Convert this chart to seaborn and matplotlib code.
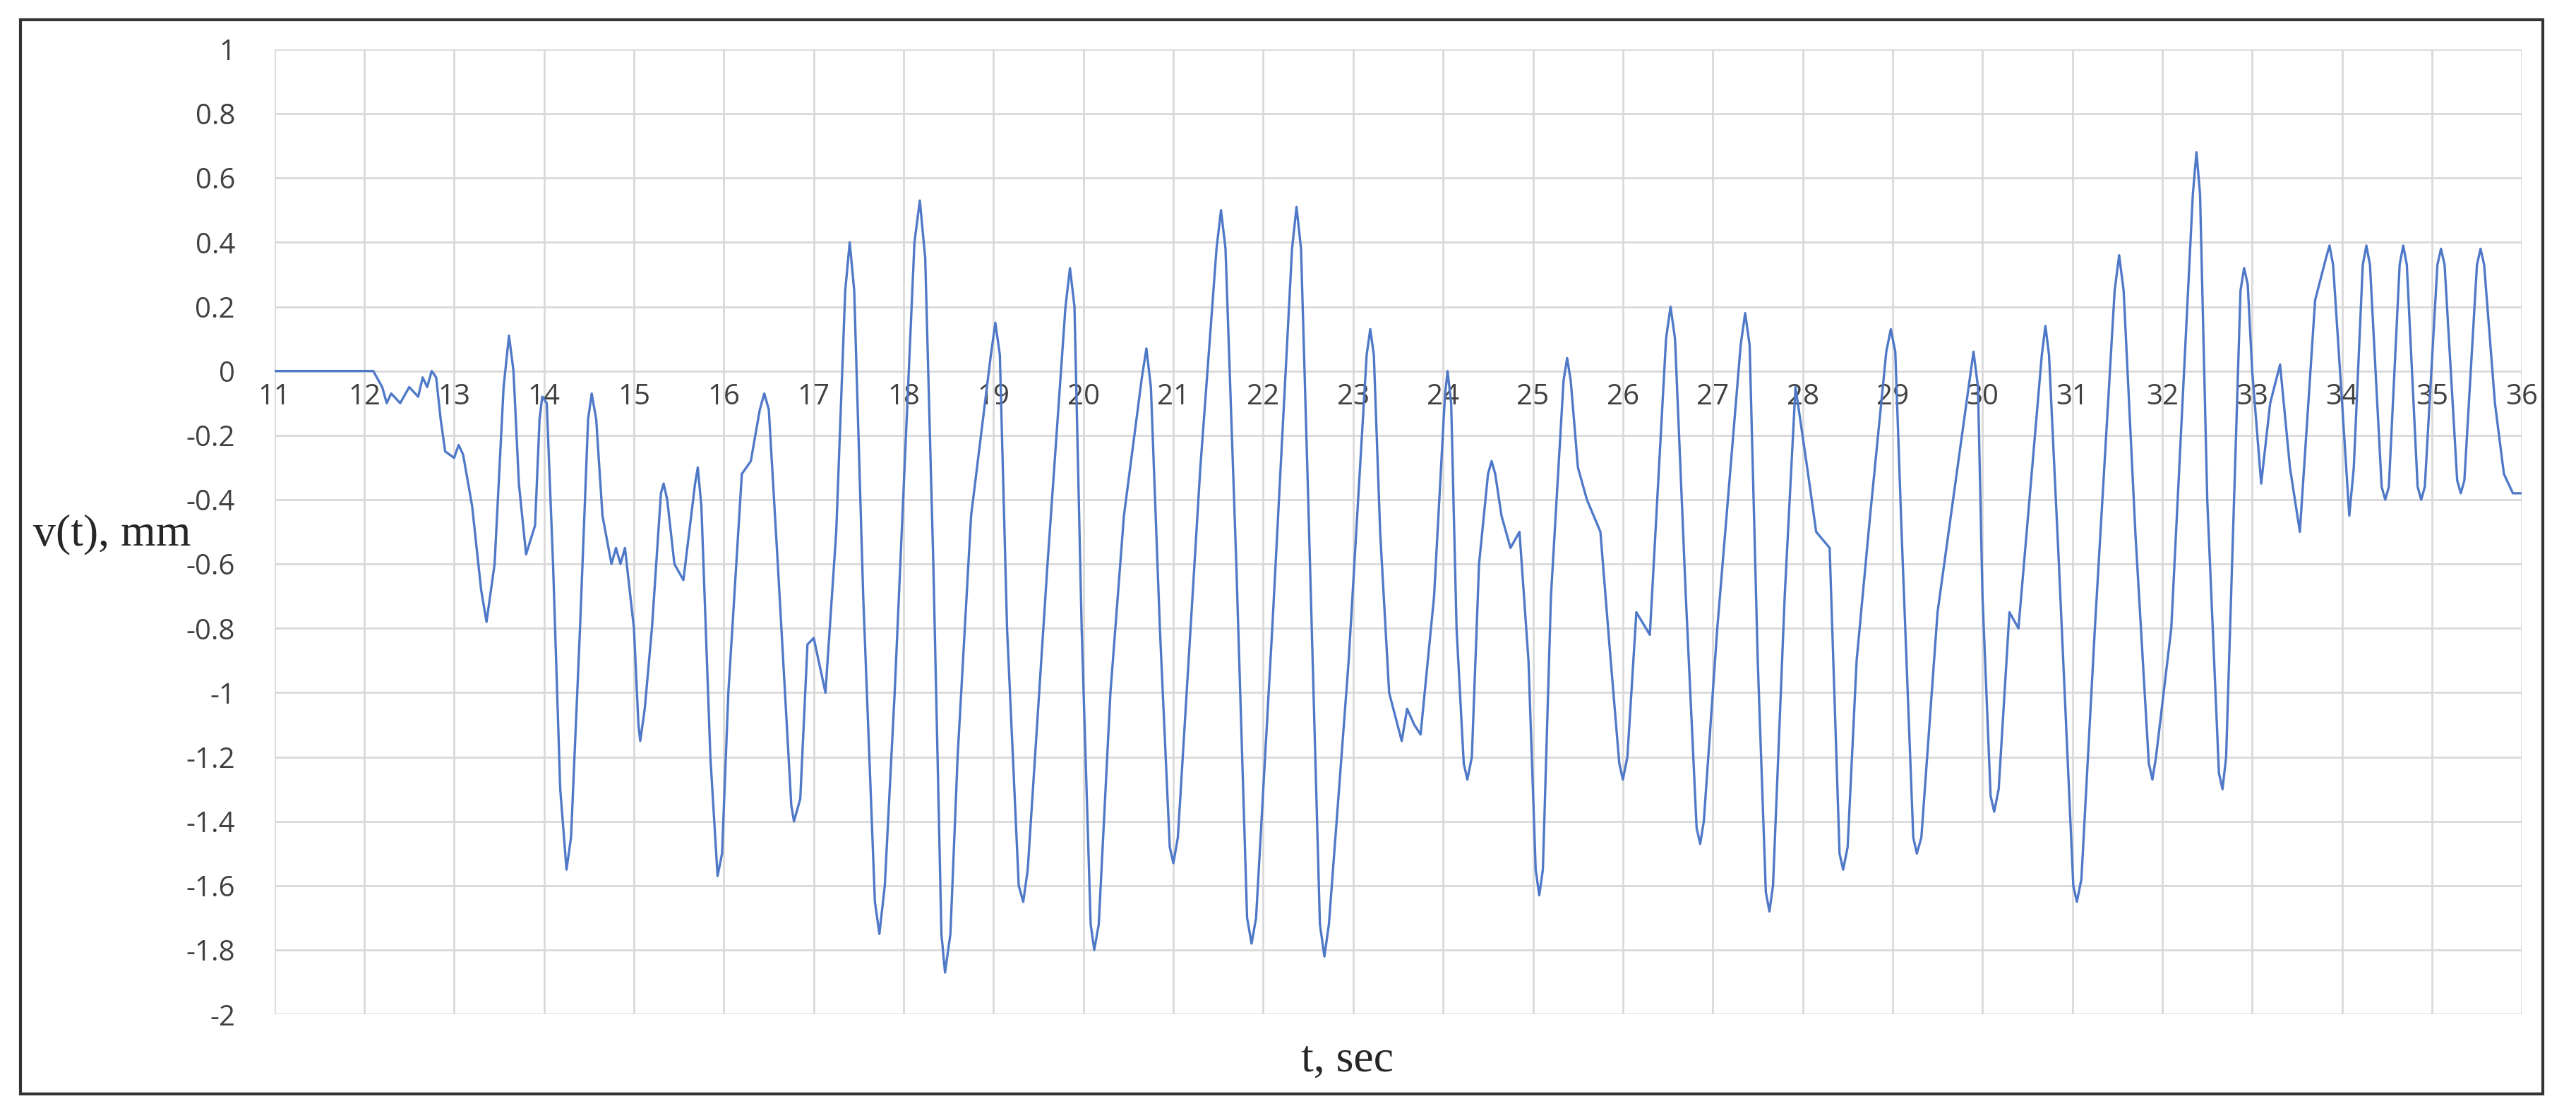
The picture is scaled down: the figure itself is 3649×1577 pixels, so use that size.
import matplotlib
matplotlib.use("Agg")
import matplotlib.pyplot as plt
import seaborn as sns
import pandas as pd
from matplotlib.patches import Rectangle

t = [11.0, 11.5, 12.0, 12.1, 12.2, 12.25, 12.3, 12.4, 12.5, 12.6, 12.65, 12.7, 12.75, 12.8, 12.85,
     12.9, 13.0, 13.05, 13.1, 13.2, 13.3, 13.36, 13.45, 13.55, 13.61, 13.66, 13.72, 13.8, 13.9, 13.95, 13.98, 14.03, 14.1, 14.18, 14.25, 14.3,
     14.4, 14.49, 14.53, 14.58, 14.65, 14.75, 14.8, 14.85, 14.9, 15.0, 15.05, 15.07, 15.12, 15.2, 15.3, 15.33, 15.37, 15.45, 15.55, 15.68, 15.71, 15.75, 15.85, 15.93, 15.98,
     16.05, 16.2, 16.3, 16.4, 16.45, 16.5, 16.6, 16.75, 16.78, 16.85, 16.93, 17.0, 17.13, 17.25, 17.35, 17.4, 17.45, 17.55, 17.68, 17.73, 17.79, 17.9, 18.12, 18.18, 18.24,
     18.33, 18.42, 18.46, 18.52, 18.6, 18.75, 18.97, 19.02, 19.07, 19.15, 19.28, 19.33, 19.38, 19.6, 19.8, 19.85, 19.9, 19.98, 20.08, 20.12, 20.17, 20.3, 20.45, 20.65, 20.7, 20.75, 20.85, 20.96, 21.0, 21.05,
     21.3, 21.48, 21.53, 21.58, 21.7, 21.82, 21.87, 21.92, 22.1, 22.32, 22.37, 22.42, 22.5, 22.63, 22.68, 22.73, 22.95, 23.15, 23.19, 23.23, 23.3, 23.4, 23.54, 23.6, 23.68, 23.75,
     23.9, 24.02, 24.05, 24.09, 24.15, 24.23, 24.27, 24.32, 24.4, 24.5, 24.54, 24.58, 24.65, 24.75, 24.85, 24.95, 25.03, 25.07, 25.11, 25.2, 25.34, 25.38, 25.42, 25.5, 25.6, 25.75,
     25.85, 25.96, 26.0, 26.05, 26.15, 26.3, 26.48, 26.53, 26.58, 26.7, 26.82, 26.86, 26.9, 27.05, 27.31, 27.36, 27.41, 27.5, 27.59, 27.63, 27.67, 27.8, 27.92, 28.05, 28.15, 28.3,
     28.41, 28.45, 28.5, 28.6, 28.75, 28.93, 28.98, 29.03, 29.1, 29.23, 29.27, 29.32, 29.5, 29.86, 29.9, 29.95, 30.0, 30.09, 30.13, 30.18, 30.3, 30.4, 30.66, 30.7, 30.74, 30.85, 31.01, 31.05, 31.1, 31.25,
     31.47, 31.52, 31.57, 31.7, 31.85, 31.89, 31.93, 32.1, 32.34, 32.38, 32.42, 32.5, 32.63, 32.67, 32.71, 32.87, 32.91, 32.95, 33.0, 33.1, 33.2, 33.31, 33.42, 33.53, 33.7, 33.82, 33.86, 33.9, 34.0,
     34.08, 34.13, 34.23, 34.27, 34.31, 34.44, 34.48, 34.52, 34.64, 34.68, 34.72, 34.84, 34.88, 34.92, 35.06, 35.1, 35.14, 35.28, 35.32, 35.36, 35.5, 35.54, 35.58, 35.7, 35.8, 35.9, 36.0]
v = [0.0, 0.0, 0.0, 0.0, -0.05, -0.1, -0.07, -0.1, -0.05, -0.08, -0.02, -0.05, 0.0, -0.02, -0.15,
     -0.25, -0.27, -0.23, -0.26, -0.42, -0.68, -0.78, -0.6, -0.05, 0.11, 0.0, -0.35, -0.57, -0.48, -0.15, -0.08, -0.1, -0.6, -1.3, -1.55, -1.45,
     -0.8, -0.15, -0.07, -0.15, -0.45, -0.6, -0.55, -0.6, -0.55, -0.8, -1.1, -1.15, -1.05, -0.8, -0.38, -0.35, -0.4, -0.6, -0.65, -0.35, -0.3, -0.42, -1.2, -1.57, -1.5,
     -1.0, -0.32, -0.28, -0.12, -0.07, -0.12, -0.6, -1.35, -1.4, -1.33, -0.85, -0.83, -1.0, -0.5, 0.25, 0.4, 0.25, -0.7, -1.65, -1.75, -1.6, -1.0, 0.4, 0.53, 0.35,
     -0.6, -1.75, -1.87, -1.75, -1.2, -0.45, 0.05, 0.15, 0.05, -0.8, -1.6, -1.65, -1.55, -0.6, 0.2, 0.32, 0.2, -0.8, -1.72, -1.8, -1.72, -1.0, -0.45, -0.02, 0.07, -0.05, -0.8, -1.48, -1.53, -1.45,
     -0.3, 0.38, 0.5, 0.38, -0.6, -1.7, -1.78, -1.7, -0.8, 0.38, 0.51, 0.38, -0.4, -1.72, -1.82, -1.72, -0.9, 0.05, 0.13, 0.05, -0.5, -1.0, -1.15, -1.05, -1.1, -1.13,
     -0.7, -0.08, 0.0, -0.1, -0.8, -1.22, -1.27, -1.2, -0.6, -0.32, -0.28, -0.32, -0.45, -0.55, -0.5, -0.9, -1.55, -1.63, -1.55, -0.7, -0.03, 0.04, -0.03, -0.3, -0.4, -0.5,
     -0.85, -1.22, -1.27, -1.2, -0.75, -0.82, 0.1, 0.2, 0.1, -0.7, -1.42, -1.47, -1.4, -0.8, 0.08, 0.18, 0.08, -0.9, -1.62, -1.68, -1.6, -0.7, -0.05, -0.3, -0.5, -0.55,
     -1.5, -1.55, -1.48, -0.9, -0.45, 0.06, 0.13, 0.06, -0.5, -1.45, -1.5, -1.45, -0.75, -0.02, 0.06, -0.05, -0.7, -1.32, -1.37, -1.3, -0.75, -0.8, 0.05, 0.14, 0.05, -0.6, -1.6, -1.65, -1.58, -0.8,
     0.25, 0.36, 0.25, -0.5, -1.22, -1.27, -1.2, -0.8, 0.55, 0.68, 0.55, -0.4, -1.25, -1.3, -1.2, 0.25, 0.32, 0.27, 0.0, -0.35, -0.1, 0.02, -0.3, -0.5, 0.22, 0.35, 0.39, 0.33, -0.1,
     -0.45, -0.3, 0.33, 0.39, 0.33, -0.36, -0.4, -0.36, 0.33, 0.39, 0.33, -0.36, -0.4, -0.36, 0.33, 0.38, 0.33, -0.34, -0.38, -0.34, 0.33, 0.38, 0.33, -0.1, -0.32, -0.38, -0.38]

y_ticks = [1, 0.8, 0.6, 0.4, 0.2, 0, -0.2, -0.4, -0.6, -0.8, -1, -1.2, -1.4, -1.6, -1.8, -2]
x_ticks = list(range(11, 37))

df = pd.DataFrame({"t": t, "v": v})

sns.set_style("white")
fig = plt.figure(figsize=(36.49, 15.77), dpi=100)
ax = fig.add_axes([0.1065, 0.0886, 0.8725, 0.8671])
sns.lineplot(data=df, x="t", y="v", ax=ax, color="#4F79C8", linewidth=2.4, sort=False)

ax.set_xlim(11, 36)
ax.set_ylim(-2, 1)
ax.set_xticks(x_ticks)
ax.set_xticklabels([str(x) for x in x_ticks])
ax.set_yticks(y_ticks)
ax.set_yticklabels([("%g" % y) for y in y_ticks])
ax.grid(True, color="#d9d9d9", linewidth=2)
for s in ["top", "right", "left"]:
    ax.spines[s].set_visible(False)
ax.spines["bottom"].set_position(("data", 0))
ax.spines["bottom"].set_visible(False)
ax.tick_params(axis="both", length=0, labelsize=29, labelcolor="#404040")
ax.tick_params(axis="x", pad=12)
ax.tick_params(axis="y", pad=40)
for lab in ax.get_xticklabels() + ax.get_yticklabels():
    lab.set_family("Open Sans")
ax.set_xlabel("")
ax.set_ylabel("")

fig.text(0.013, 0.52, "v(t), mm", fontsize=46, family="Liberation Serif", va="center", ha="left")
fig.text(0.523, 0.047, "t, sec", fontsize=46, family="Liberation Serif", va="center", ha="center")

fig.patches.append(Rectangle((0.008, 0.017), 0.979, 0.965, transform=fig.transFigure,
                             fill=False, edgecolor="#333333", linewidth=3))
fig.savefig("out.png", dpi=100)
